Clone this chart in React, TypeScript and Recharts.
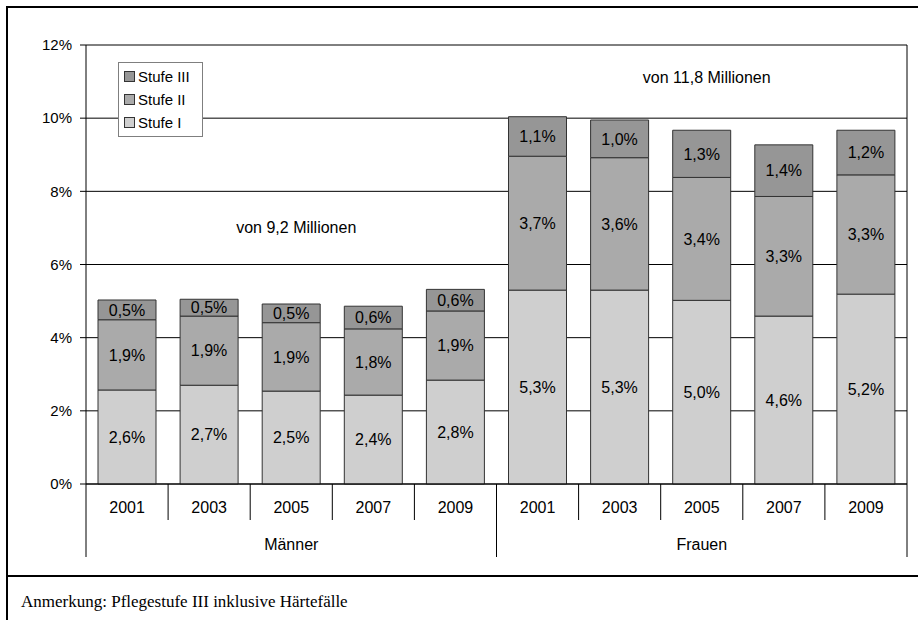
import React from 'react';
import {
  BarChart,
  Bar,
  XAxis,
  YAxis,
  CartesianGrid,
  LabelList,
  Legend,
  ReferenceDot,
} from 'recharts';

const years = ['2001', '2003', '2005', '2007', '2009'];
const groups = ['Männer', 'Frauen'];

// Anteile in % je Pflegestufe
const stufe1Maenner = [2.57, 2.7, 2.54, 2.43, 2.84];
const stufe2Maenner = [1.92, 1.89, 1.87, 1.81, 1.89];
const stufe3Maenner = [0.54, 0.46, 0.51, 0.62, 0.59];
const stufe1Frauen = [5.3, 5.3, 5.02, 4.59, 5.19];
const stufe2Frauen = [3.66, 3.62, 3.36, 3.27, 3.26];
const stufe3Frauen = [1.08, 1.03, 1.29, 1.41, 1.22];

const yTicks = [0, 2, 4, 6, 8, 10, 12];
const noteMaenner = 'von 9,2 Millionen';
const noteFrauen = 'von 11,8 Millionen';
const footnote = 'Anmerkung: Pflegestufe III inklusive Härtefälle';

const series = [
  { key: 's3', name: 'Stufe III', color: '#969696' },
  { key: 's2', name: 'Stufe II', color: '#aaaaaa' },
  { key: 's1', name: 'Stufe I', color: '#cfcfcf' },
];

const values: Record<string, number[][]> = {
  Männer: [stufe1Maenner, stufe2Maenner, stufe3Maenner],
  Frauen: [stufe1Frauen, stufe2Frauen, stufe3Frauen],
};

const data = groups.flatMap((g) =>
  years.map((y, i) => ({
    id: `${g}-${y}`,
    year: y,
    group: g,
    s1: values[g][0][i],
    s2: values[g][1][i],
    s3: values[g][2][i],
  }))
);

const W = 918;
const CHART_H = 572;
const LEFT = 86;
const RIGHT = 11;
const PLOT_W = W - LEFT - RIGHT;
const BAND = PLOT_W / data.length;
const YEAR_ROW = 36;
const GROUP_ROW = 37;

const fmt = (v: any) => `${Number(v).toFixed(1).replace('.', ',')}%`;

function YearTick(props: any) {
  const { x, y, index } = props;
  const row = data[index];
  if (!row) return null;
  const half = BAND / 2;
  const posInGroup = years.indexOf(row.year);
  const groupStart = posInGroup === 0;
  const isLast = index === data.length - 1;
  return (
    <g>
      <line
        x1={x - half}
        x2={x - half}
        y1={y}
        y2={y + (groupStart ? YEAR_ROW + GROUP_ROW : YEAR_ROW)}
        stroke="#000"
      />
      {isLast && (
        <line x1={x + half} x2={x + half} y1={y} y2={y + YEAR_ROW + GROUP_ROW} stroke="#000" />
      )}
      <text x={x} y={y + 29} textAnchor="middle" fontSize={16} fill="#000">
        {row.year}
      </text>
      {posInGroup === Math.floor(years.length / 2) && (
        <text x={x} y={y + YEAR_ROW + 30} textAnchor="middle" fontSize={16} fill="#000">
          {row.group}
        </text>
      )}
    </g>
  );
}

function LegendBox() {
  return (
    <div
      style={{
        border: '1px solid #7f7f7f',
        background: '#fff',
        width: 78,
        padding: '2px 0 2px 5px',
        boxSizing: 'content-box',
      }}
    >
      {series.map((s) => (
        <div key={s.key} style={{ display: 'flex', alignItems: 'center', height: 23, fontSize: 15, color: '#000' }}>
          <span
            style={{
              display: 'inline-block',
              width: 9,
              height: 9,
              background: s.color,
              border: '1px solid #333',
              marginRight: 3,
            }}
          />
          {s.name}
        </div>
      ))}
    </div>
  );
}

export default function App() {
  return (
    <div
      style={{
        position: 'absolute',
        left: 0,
        top: 0,
        width: W,
        height: 620,
        background: '#fff',
        overflow: 'hidden',
        fontFamily: '"Liberation Sans", Arial, sans-serif',
      }}
    >
      {/* Rahmen */}
      <div style={{ position: 'absolute', left: 6, top: 6, width: 2, height: 614, background: '#000' }} />
      <div style={{ position: 'absolute', left: 6, top: 6, width: W - 6, height: 2, background: '#000' }} />
      <div style={{ position: 'absolute', left: 6, top: 575, width: W - 6, height: 2, background: '#000' }} />

      <div style={{ position: 'absolute', left: 0, top: 0 }}>
        <BarChart
          width={W}
          height={CHART_H}
          data={data}
          margin={{ top: 45, right: RIGHT - 1, left: 0, bottom: CHART_H - 484 - YEAR_ROW - GROUP_ROW }}
          barSize={58}
        >
          <CartesianGrid vertical={false} stroke="#000" strokeOpacity={1} />
          <XAxis
            dataKey="id"
            interval={0}
            height={YEAR_ROW + GROUP_ROW}
            tickSize={0}
            tickMargin={0}
            tickLine={false}
            axisLine={{ stroke: '#000' }}
            tick={<YearTick />}
          />
          <YAxis
            width={LEFT}
            domain={[0, 12]}
            ticks={yTicks}
            tickFormatter={(v) => `${v}%`}
            tick={{ fontSize: 15, fill: '#000' }}
            tickSize={6}
            tickMargin={8}
            tickLine={{ stroke: '#000' }}
            axisLine={{ stroke: '#000' }}
          />
          <YAxis
            yAxisId="right"
            orientation="right"
            width={1}
            domain={[0, 12]}
            ticks={yTicks}
            tick={false}
            tickLine={false}
            axisLine={{ stroke: '#000' }}
          />
          <Legend
            layout="vertical"
            align="center"
            verticalAlign="middle"
            content={() => <LegendBox />}
            wrapperStyle={{ left: 118, top: 62, bottom: 'auto', width: 'auto' }}
          />
          <Bar dataKey="s1" name="Stufe I" stackId="a" fill="#cfcfcf" stroke="#333" strokeWidth={1} isAnimationActive={false}>
            <LabelList dataKey="s1" position="center" formatter={fmt} fill="#000" fontSize={16} />
          </Bar>
          <Bar dataKey="s2" name="Stufe II" stackId="a" fill="#aaaaaa" stroke="#333" strokeWidth={1} isAnimationActive={false}>
            <LabelList dataKey="s2" position="center" formatter={fmt} fill="#000" fontSize={16} />
          </Bar>
          <Bar dataKey="s3" name="Stufe III" stackId="a" fill="#969696" stroke="#333" strokeWidth={1} isAnimationActive={false}>
            <LabelList dataKey="s3" position="center" formatter={fmt} fill="#000" fontSize={16} />
          </Bar>
          <ReferenceDot
            x="Männer-2005"
            y={7.02}
            r={0}
            fill="none"
            stroke="none"
            label={{ value: noteMaenner, position: 'center', fill: '#000', fontSize: 16, dx: 5 }}
          />
          <ReferenceDot
            x="Frauen-2005"
            y={11.12}
            r={0}
            fill="none"
            stroke="none"
            label={{ value: noteFrauen, position: 'center', fill: '#000', fontSize: 16, dx: 5 }}
          />
        </BarChart>
      </div>

      <div
        style={{
          position: 'absolute',
          left: 21,
          top: 592,
          fontFamily: '"Liberation Serif", "Times New Roman", serif',
          fontSize: 17,
          color: '#000',
          whiteSpace: 'nowrap',
        }}
      >
        {footnote}
      </div>
    </div>
  );
}
